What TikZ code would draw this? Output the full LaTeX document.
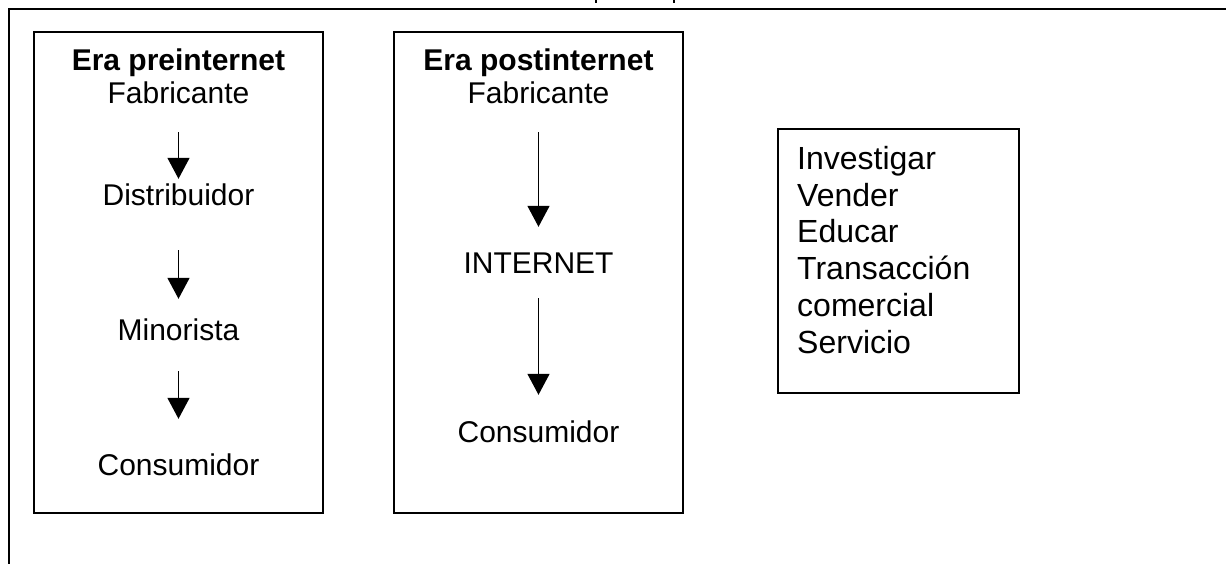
\documentclass[tikz,border=0pt]{standalone}
\usepackage{fontspec}
\setmainfont{Liberation Sans}
\usetikzlibrary{arrows.meta}
\begin{document}
\begin{tikzpicture}[x=1pt,y=-1pt,
  frame/.style={line width=1.6pt},
  panel/.style={draw,line width=1.6pt,inner sep=0pt},
  lbl/.style={inner sep=0pt,anchor=base,font=\fontsize{30}{34}\selectfont,text height=22pt,text depth=6pt},
  ttl/.style={lbl,font=\fontsize{30}{34}\selectfont\bfseries},
  flow/.style={line width=1.5pt,-{Triangle[length=21pt,width=22pt]}},
  list/.style={inner sep=0pt,anchor=north west,align=left,font=\fontsize{32}{36.8}\selectfont}
]
\useasboundingbox (0,0) rectangle (1226,563);
% outer frame (partially visible)
\coordinate (ftl) at (9,9);
\coordinate (ftr) at (1230,9);
\coordinate (fbl) at (9,567);
\draw[frame] (ftr) -- (ftl) -- (fbl);
% fragments of cut-off title
\coordinate (m1a) at (596,-2); \coordinate (m1b) at (596,3);
\coordinate (m2a) at (674,-2); \coordinate (m2b) at (674,3);
\draw[line width=1.3pt] (m1a) -- (m1b);
\draw[line width=1.3pt] (m2a) -- (m2b);

% panels
\node[panel,minimum width=289pt,minimum height=481pt] (p1) at (178.5,272.5) {};
\node[panel,minimum width=289pt,minimum height=481pt] (p2) at (538.5,272.5) {};
\node[panel,minimum width=241pt,minimum height=264pt] (p3) at (898.5,261) {};

% pre-internet
\node[ttl] (t1) at (178.5,70) {Era preinternet};
\node[lbl] (a1) at (178.5,103) {Fabricante};
\node[lbl] (a2) at (178.5,205) {Distribuidor};
\node[lbl] (a3) at (178.5,340) {Minorista};
\node[lbl] (a4) at (178.5,475) {Consumidor};
\draw[flow,shorten <=23pt,shorten >=4pt] (a1.south) -- (a2.north);
\draw[flow,shorten <=39pt,shorten >=19pt] (a2.south) -- (a3.north);
\draw[flow,shorten <=25pt,shorten >=34pt] (a3.south) -- (a4.north);

% post-internet
\node[ttl] (t2) at (538.5,70) {Era postinternet};
\node[lbl] (b1) at (538.5,103) {Fabricante};
\node[lbl] (b2) at (538.5,273) {INTERNET};
\node[lbl] (b3) at (538.5,442) {Consumidor};
\draw[flow,shorten <=23pt,shorten >=24pt] (b1.south) -- (b2.north);
\draw[flow,shorten <=19pt,shorten >=25pt] (b2.south) -- (b3.north);

% list
\node[list] (l) at (797,146) {Investigar\\Vender\\Educar\\Transacción\\comercial\\Servicio};
\end{tikzpicture}
\end{document}
